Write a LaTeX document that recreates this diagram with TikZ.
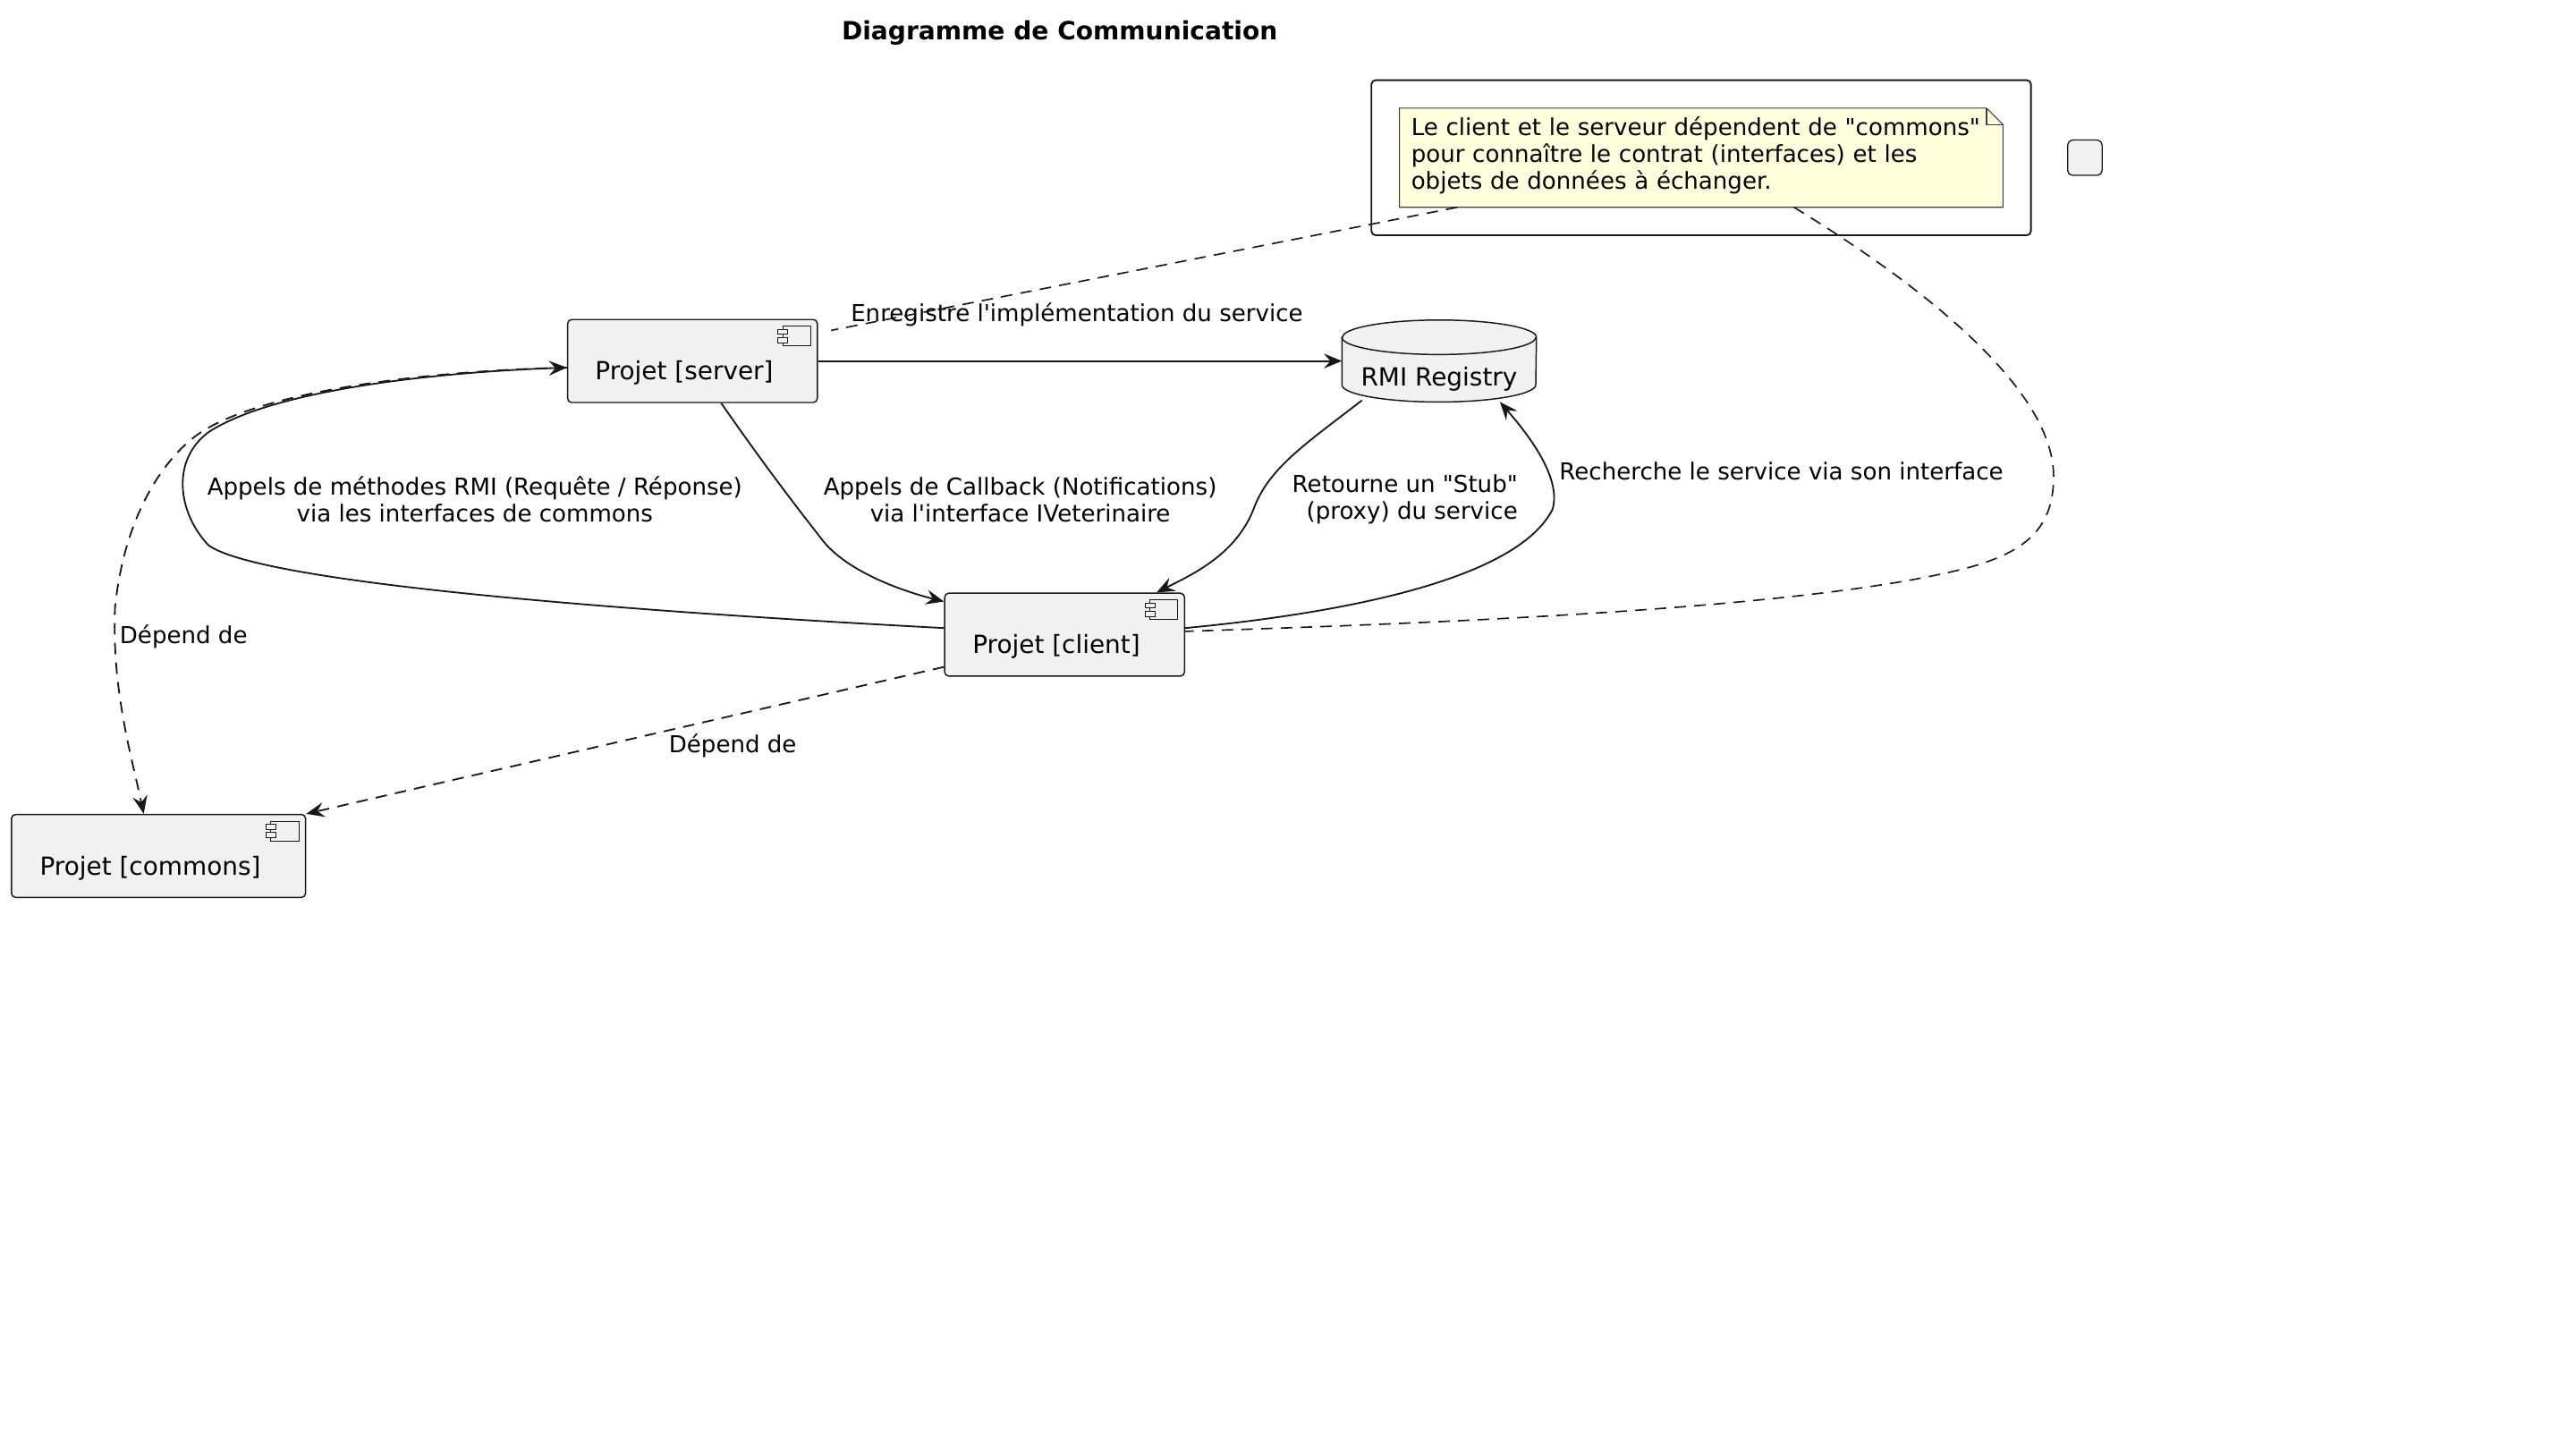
\documentclass[tikz,border=0pt]{standalone}
\usepackage{fontspec}
\setmainfont{DejaVu Sans}[Ligatures=TeXOff]
\usetikzlibrary{positioning, fit, arrows.meta}
\definecolor{linec}{HTML}{181818}
\definecolor{compfill}{HTML}{F1F1F1}
\definecolor{notefill}{HTML}{FEFFDD}
\tikzset{Comp/.style={draw=linec, fill=compfill, rounded corners=2.5pt, line width=0.8pt,
    minimum height=50.5, inner sep=0pt, font=\fontsize{15.2}{18}\selectfont}}
\tikzset{Lbl/.style={font=\fontsize{14.2}{16.4}\selectfont, inner sep=0pt, align=center}}
\tikzset{E/.style={draw=linec, line width=1pt, -{Stealth[length=11pt,width=9pt,inset=4pt]}}}
\tikzset{D/.style={E, dash pattern=on 7pt off 5pt}}
\tikzset{N/.style={draw=linec, line width=0.9pt, dash pattern=on 7pt off 5pt}}
\tikzset{Icon/.style={draw=linec, fill=compfill, line width=0.5pt}}
\newcommand{\CompLabel}[1]{\raisebox{-11.5pt}[0pt][0pt]{#1}\hspace*{10pt}}
\newcommand{\CompIcon}[1]{
    \draw[Icon] ([shift={(-21.5,4.5)}]#1.north east) rectangle ([shift={(-4.5,16.5)}]#1.north east);
    \draw[Icon] ([shift={(-24.5,6.5)}]#1.north east) rectangle ([shift={(-18.5,9.5)}]#1.north east);
    \draw[Icon] ([shift={(-24.5,11.5)}]#1.north east) rectangle ([shift={(-18.5,14.5)}]#1.north east);
}

\begin{document}
\begin{tikzpicture}[x=1pt, y=-1pt]
    \useasboundingbox[fill=white] (0,0) rectangle (1568,882);

    \node (title) [font=\fontsize{15.3}{18}\selectfont\bfseries] at (645,20) {Diagramme de Communication};

    %% Components
    \node (srv) [Comp, minimum width=152] at (421.5,219.75) {\CompLabel{Projet [server]}};
    \node (cli) [Comp, minimum width=146] at (648,386.3) {\CompLabel{Projet [client]}};
    \node (com) [Comp, minimum width=179] at (96.5,521) {\CompLabel{Projet [commons]}};
    \CompIcon{srv}
    \CompIcon{cli}
    \CompIcon{com}

    %% Registry
    \node (reg) [minimum width=118, minimum height=49.5, inner sep=0pt] at (876,219.75) {};
    \draw[draw=linec, fill=compfill, line width=0.8pt]
        ([shift={(0,10.5)}]reg.north west) -- ([shift={(0,-10.5)}]reg.south west)
        arc[start angle=180, end angle=0, x radius=59, y radius=10.5]
        -- ([shift={(0,10.5)}]reg.north east)
        arc[start angle=0, end angle=-180, x radius=59, y radius=10.5] -- cycle;
    \draw[draw=linec, line width=0.8pt] ([shift={(0,10.5)}]reg.north west)
        arc[start angle=180, end angle=0, x radius=59, y radius=10.5];
    \node (regtxt) [font=\fontsize{15.2}{18}\selectfont, inner sep=0pt] at ([shift={(0,10.75)}]reg.center) {RMI Registry};

    %% Note
    \node (note) [minimum width=367, minimum height=60, inner sep=0pt] at (1035.5,96) {};
    \node (frame) [fit=(note), inner sep=17pt, draw=linec, line width=1pt, rounded corners=2.5pt] {};
    \draw[draw=linec!85, fill=notefill, line width=0.6pt] (note.north west)
        -- ([shift={(-10,0)}]note.north east) -- ([shift={(0,10)}]note.north east)
        -- (note.south east) -- (note.south west) -- cycle;
    \draw[draw=linec!85, line width=0.6pt] ([shift={(-10,0)}]note.north east)
        -- ([shift={(-10,10)}]note.north east) -- ([shift={(0,10)}]note.north east);
    \node (notetxt) [Lbl, align=left, text width=352, anchor=west] at ([shift={(7,-1.5)}]note.west)
        {Le client et le serveur dépendent de "commons"\\pour connaître le contrat (interfaces) et les\\objets de données à échanger.};
    \node (tiny) [right=21.5pt of frame, draw=linec, fill=compfill, rounded corners=3pt,
        minimum width=21, minimum height=21.5, inner sep=0pt, line width=0.7pt] {};

    %% Connectors
    \draw[E] (srv.east) -- (reg.west);
    \draw[E] ([shift={(-47,-1)}]reg.south) .. controls (795,270) and (772,285) .. (763,310)
        .. controls (752,338) and (725,350) .. ([shift={(56,0)}]cli.north);
    \draw[E] ([shift={(0,-4)}]cli.east) .. controls (830,372) and (925,350) .. (945,310)
        .. controls (951,290) and (928,262) .. ([shift={(37,0)}]reg.south);
    \draw[E] ([shift={(17.5,0)}]srv.south) .. controls (470,290) and (490,315) .. (500,328)
        .. controls (515,348) and (550,360) .. ([shift={(0,5.5)}]cli.north west);
    \draw[E] ([shift={(0,-4)}]cli.west) .. controls (380,372) and (160,355) .. (127,332)
        .. controls (108,312) and (104,280) .. (127,263)
        .. controls (170,235) and (280,226) .. ([shift={(0,4)}]srv.west);
    \draw[D] ([shift={(0,4)}]srv.west) .. controls (250,226) and (150,240) .. (117,267)
        .. controls (95,285) and (75,320) .. (70,370)
        .. controls (68,420) and (80,460) .. ([shift={(-9,0)}]com.north);
    \draw[D] ([shift={(0,-6)}]cli.south west) -- (com.north east);
    \draw[N] ([shift={(-148.5,0)}]note.south) -- ([shift={(8,7)}]srv.north east);
    \draw[N] ([shift={(56.5,0)}]note.south) .. controls (1180,180) and (1250,240) .. (1250,290)
        .. controls (1250,320) and (1235,335) .. (1200,345)
        .. controls (1100,372) and (850,380) .. ([shift={(0,-2)}]cli.east);

    %% Labels
    \node (lblreg) [Lbl] at (655.5,191.5) {Enregistre l'implémentation du service};
    \node (lblrmi) [Lbl] at (289,304) {Appels de méthodes RMI (Requête / Réponse)\\via les interfaces de commons};
    \node (lblcb) [Lbl] at (621,304) {Appels de Callback (Notifications)\\via l'interface IVeterinaire};
    \node (lblstub) [Lbl, align=right, anchor=east] at (924,304) {Retourne un "Stub"\\(proxy) du service};
    \node (lblrech) [Lbl, anchor=west] at (949,287) {Recherche le service via son interface};
    \node (lbldep1) [Lbl, anchor=west] at (72.7,387.6) {Dépend de};
    \node (lbldep2) [Lbl] at (446,454) {Dépend de};
\end{tikzpicture}
\end{document}
